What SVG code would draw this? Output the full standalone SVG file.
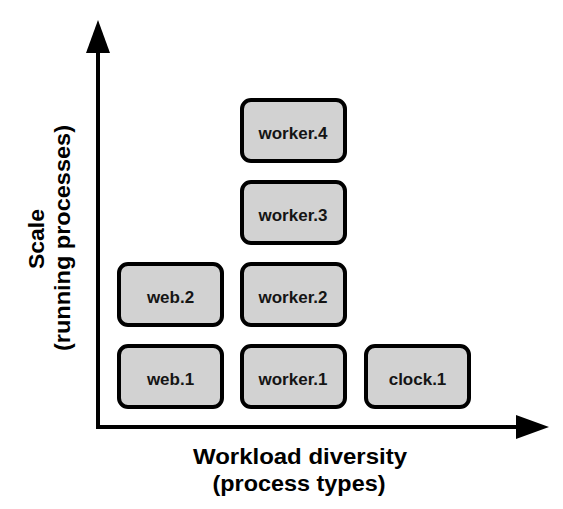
<svg xmlns="http://www.w3.org/2000/svg" width="563" height="509" viewBox="0 0 563 509">
  <style>
    .box { fill: #d2d2d2; stroke: #000; stroke-width: 4; }
    .lbl { font-family: "Liberation Sans", Arial, sans-serif; font-weight: bold; font-size: 17px; fill: #151515; text-anchor: middle; }
    .axlbl { font-family: "Liberation Sans", Arial, sans-serif; font-weight: bold; font-size: 22px; fill: #000; text-anchor: middle; }
    .axis { stroke: #000; stroke-width: 4; fill: none; }
  </style>
  <defs>
    <marker id="arrow" viewBox="0 0 33 24" refX="1" refY="12" markerWidth="33" markerHeight="24" markerUnits="userSpaceOnUse" orient="auto">
      <path d="M0,0 L33,12 L0,24 z" fill="#000"/>
    </marker>
  </defs>
  <rect width="563" height="509" fill="#fff"/>
  <g id="connectors">
    <line class="axis" x1="98" y1="429" x2="98" y2="52" marker-end="url(#arrow)"/>
    <line class="axis" x1="96" y1="427" x2="517" y2="427" marker-end="url(#arrow)"/>
  </g>
  <g id="web1"><rect class="box" x="119" y="346" width="103" height="61" rx="9"/><text class="lbl" x="170.5" y="385">web.1</text></g>
  <g id="web2"><rect class="box" x="119" y="264" width="103" height="61" rx="9"/><text class="lbl" x="170.5" y="303">web.2</text></g>
  <g id="worker1"><rect class="box" x="242" y="346" width="103" height="61" rx="9"/><text class="lbl" x="293" y="385">worker.1</text></g>
  <g id="worker2"><rect class="box" x="242" y="264" width="103" height="61" rx="9"/><text class="lbl" x="293" y="303">worker.2</text></g>
  <g id="worker3"><rect class="box" x="242" y="182" width="103" height="61" rx="9"/><text class="lbl" x="293" y="221">worker.3</text></g>
  <g id="worker4"><rect class="box" x="242" y="100" width="103" height="61" rx="9"/><text class="lbl" x="293" y="139">worker.4</text></g>
  <g id="clock1"><rect class="box" x="366" y="346" width="103" height="61" rx="9"/><text class="lbl" x="417.5" y="385">clock.1</text></g>
  <g id="xlabel">
    <text class="axlbl" x="300" y="464" textLength="214" lengthAdjust="spacingAndGlyphs">Workload diversity</text>
    <text class="axlbl" x="299" y="491" textLength="173" lengthAdjust="spacingAndGlyphs">(process types)</text>
  </g>
  <g id="ylabel">
    <text class="axlbl" transform="translate(44,239) rotate(-90)" x="0" y="0" textLength="60" lengthAdjust="spacingAndGlyphs">Scale</text>
    <text class="axlbl" transform="translate(70,238) rotate(-90)" x="0" y="0" textLength="226" lengthAdjust="spacingAndGlyphs">(running processes)</text>
  </g>
</svg>
